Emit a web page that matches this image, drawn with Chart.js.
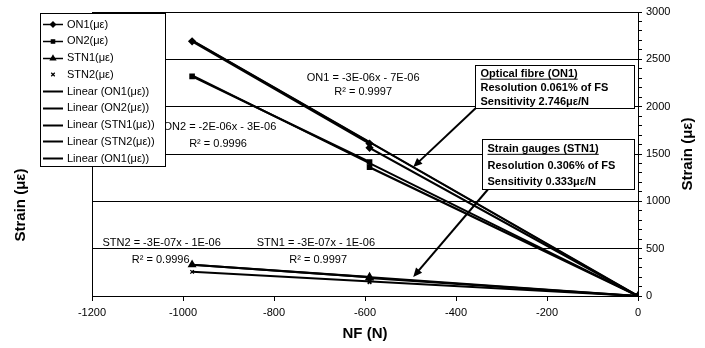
<!DOCTYPE html>
<html>
<head>
<meta charset="utf-8">
<script src="https://cdn.jsdelivr.net/npm/chart.js@4.4.1/dist/chart.umd.min.js"></script>
<style>
html,body{margin:0;padding:0;background:#fff;}
canvas{display:block;}
</style>
</head>
<body>
<canvas id="c" width="705" height="348"></canvas>
<script>
// ---- data ----
const loads = [-980, -590, -590, 0];            // NF (N)
const on1 = [2690, 1610, 1565, 0];              // ON1 (µε)
const on2 = [2320, 1415, 1360, 0];              // ON2 (µε)
const stn1 = [330, 200, 190, 0];                // STN1 (µε)
const stn2 = [255, 155, 145, 0];                // STN2 (µε)
const trendX = [-980, 0];
const trendOn1 = [2700, 0];
const trendOn2 = [2330, 0];
const trendStn1 = [330, 0];
const trendStn2 = [255, 0];
const xTicks = [-1200, -1000, -800, -600, -400, -200, 0];
const seriesLabels = ['ON1(με)', 'ON2(με)', 'STN1(με)', 'STN2(με)',
  'Linear (ON1(με))', 'Linear (ON2(με))', 'Linear (STN1(με))', 'Linear (STN2(με))', 'Linear (ON1(με))'];
const equations = [
  {t: 'ON1 = -3E-06x - 7E-06', x: -604, y: 2303},
  {t: 'R² = 0.9997', x: -604, y: 2155},
  {t: 'ON2 = -2E-06x - 3E-06', x: -919, y: 1785},
  {t: 'R² = 0.9996', x: -923, y: 1606},
  {t: 'STN2 = -3E-07x - 1E-06', x: -1047, y: 560},
  {t: 'R² = 0.9996', x: -1049, y: 380},
  {t: 'STN1 = -3E-07x - 1E-06', x: -708, y: 560},
  {t: 'R² = 0.9997', x: -703, y: 380}
];
const boxes = [
  {lines: ['Optical fibre (ON1)', 'Resolution 0.061% of FS', 'Sensitivity 2.746με/N'],
   x0: -358, x1: -9, y0: 2440, y1: 1986, arrowFrom: [-354, 1996], arrowTo: [-494, 1363]},
  {lines: ['Strain gauges (STN1)', 'Resolution 0.306% of FS', 'Sensitivity 0.333με/N'],
   x0: -343, x1: -9, y0: 1658, y1: 1130, arrowFrom: [-330, 1125], arrowTo: [-494, 201]}
];

const FONT = '"Liberation Sans", Arial, sans-serif';
Chart.defaults.font.family = FONT;
Chart.defaults.color = '#000';

const pts = (xs, ys) => xs.map((x, i) => ({x: x, y: ys[i]}));

const datasets = [
  {label: seriesLabels[0], data: pts(loads, on1), pointStyle: 'rectRot', pointRadius: 2.6, borderWidth: 2.2},
  {label: seriesLabels[1], data: pts(loads, on2), pointStyle: 'rect', pointRadius: 2.4, borderWidth: 2.2},
  {label: seriesLabels[2], data: pts(loads, stn1), pointStyle: 'triangle', pointRadius: 3, borderWidth: 2.2},
  {label: seriesLabels[3], data: pts(loads, stn2), pointStyle: 'crossRot', pointRadius: 2.5, borderWidth: 1.3, showLine: false},
  {label: seriesLabels[4], data: pts(trendX, trendOn1), pointRadius: 0, borderWidth: 2},
  {label: seriesLabels[5], data: pts(trendX, trendOn2), pointRadius: 0, borderWidth: 2},
  {label: seriesLabels[6], data: pts(trendX, trendStn1), pointRadius: 0, borderWidth: 2},
  {label: seriesLabels[7], data: pts(trendX, trendStn2), pointRadius: 0, borderWidth: 2},
  {label: seriesLabels[8], data: pts(trendX, trendOn1), pointRadius: 0, borderWidth: 1.5}
].map(d => Object.assign({borderColor: '#000', backgroundColor: '#000', pointBorderColor: '#000',
  pointBackgroundColor: '#000', tension: 0, fill: false, pointHoverRadius: 3}, d));

const extras = {
  id: 'extras',
  afterDraw(chart) {
    const ctx = chart.ctx;
    const xs = chart.scales.x, ys = chart.scales.y;
    const px = v => xs.getPixelForValue(v), py = v => ys.getPixelForValue(v);
    ctx.save();
    // equations
    ctx.font = '11px ' + FONT;
    ctx.fillStyle = '#000';
    ctx.textAlign = 'center';
    ctx.textBaseline = 'middle';
    equations.forEach(e => ctx.fillText(e.t, px(e.x), py(e.y)));
    // arrows
    boxes.forEach(b => {
      const x0 = px(b.arrowFrom[0]), y0 = py(b.arrowFrom[1]);
      const x1 = px(b.arrowTo[0]), y1 = py(b.arrowTo[1]);
      const a = Math.atan2(y1 - y0, x1 - x0);
      ctx.strokeStyle = '#000'; ctx.lineWidth = 2;
      ctx.beginPath(); ctx.moveTo(x0, y0);
      ctx.lineTo(x1 - 6 * Math.cos(a), y1 - 6 * Math.sin(a)); ctx.stroke();
      ctx.beginPath();
      ctx.moveTo(x1, y1);
      ctx.lineTo(x1 - 9 * Math.cos(a) + 4 * Math.sin(a), y1 - 9 * Math.sin(a) - 4 * Math.cos(a));
      ctx.lineTo(x1 - 9 * Math.cos(a) - 4 * Math.sin(a), y1 - 9 * Math.sin(a) + 4 * Math.cos(a));
      ctx.closePath(); ctx.fill();
    });
    // boxes
    boxes.forEach(b => {
      const l = Math.round(px(b.x0)) + 0.5, r = Math.round(px(b.x1)) + 0.5;
      const t = Math.round(py(b.y0)) + 0.5, bt = Math.round(py(b.y1)) + 0.5;
      ctx.fillStyle = '#fff'; ctx.fillRect(l, t, r - l, bt - t);
      ctx.strokeStyle = '#000'; ctx.lineWidth = 1; ctx.strokeRect(l, t, r - l, bt - t);
      ctx.fillStyle = '#000';
      ctx.font = 'bold 11px ' + FONT;
      ctx.textAlign = 'left'; ctx.textBaseline = 'middle';
      const step = (bt - t) / 3;
      b.lines.forEach((s, i) => {
        const y = t + step * (i + 0.5) + 1;
        ctx.fillText(s, l + 5, y);
        if (i === 0) {
          const w = ctx.measureText(s).width;
          ctx.fillRect(l + 5, y + 5, w, 1);
        }
      });
    });
    // legend
    const L = 40.5, T = 13.5, W = 125, H = 153;
    ctx.fillStyle = '#fff'; ctx.fillRect(L, T, W, H);
    ctx.strokeStyle = '#000'; ctx.lineWidth = 1; ctx.strokeRect(L, T, W, H);
    ctx.font = '11px ' + FONT; ctx.textAlign = 'left'; ctx.textBaseline = 'middle';
    chart.data.datasets.forEach((d, i) => {
      const y = 24 + i * 16.75;
      ctx.strokeStyle = '#000'; ctx.fillStyle = '#000';
      if (d.showLine !== false) {
        ctx.lineWidth = i < 4 ? 1.5 : 2;
        ctx.beginPath(); ctx.moveTo(43, Math.round(y) + 0.5); ctx.lineTo(63, Math.round(y) + 0.5); ctx.stroke();
      }
      if (d.pointRadius > 0) {
        ctx.lineWidth = 1.2;
        Chart.helpers.drawPoint(ctx, {pointStyle: d.pointStyle, radius: d.pointRadius, borderWidth: 1.2, rotation: 0}, 53, Math.round(y) + 0.5);
      }
      ctx.fillStyle = '#000';
      ctx.fillText(d.label, 67, y + 0.5);
    });
    // axis titles
    ctx.font = 'bold 15px ' + FONT;
    ctx.textAlign = 'center'; ctx.textBaseline = 'middle';
    ctx.fillText('NF (N)', px(-600), 334);
    ctx.save(); ctx.translate(21, 205); ctx.rotate(-Math.PI / 2); ctx.fillText('Strain (με)', 0, 0); ctx.restore();
    ctx.save(); ctx.translate(688, py(1500)); ctx.rotate(-Math.PI / 2); ctx.fillText('Strain (με)', 0, 0); ctx.restore();
    ctx.restore();
  }
};

new Chart(document.getElementById('c'), {
  type: 'line',
  data: {datasets: datasets},
  options: {
    responsive: false,
    animation: false,
    devicePixelRatio: 1,
    layout: {padding: {top: 12, left: 0, right: 0, bottom: 0}},
    plugins: {legend: {display: false}, tooltip: {enabled: false}},
    scales: {
      x: {
        type: 'linear', position: 'bottom', min: -1200, max: 0,
        afterBuildTicks: s => { s.ticks = xTicks.map(v => ({value: v})); },
        ticks: {font: {size: 11}, color: '#000', padding: 5, maxRotation: 0, callback: v => String(v)},
        grid: {drawOnChartArea: false, color: '#000', tickLength: 5, tickWidth: 1},
        border: {color: '#000', width: 1},
        afterFit: s => { s.height = 52; }
      },
      y: {
        type: 'linear', position: 'right', min: 0, max: 3000,
        ticks: {stepSize: 100, autoSkip: false, font: {size: 11}, color: '#000', padding: 4,
          callback: v => (v % 500 === 0 ? String(v) : '')},
        grid: {color: c => (c.tick && c.tick.value % 500 === 0 ? '#000' : 'rgba(0,0,0,0)'),
          tickColor: '#000', tickLength: 4, lineWidth: 1},
        border: {color: '#000', width: 1},
        afterFit: s => { s.width = 67; }
      },
      yL: {
        type: 'linear', position: 'left', min: 0, max: 3000,
        ticks: {display: false},
        grid: {drawOnChartArea: false, drawTicks: false},
        border: {color: '#000', width: 1},
        afterFit: s => { s.width = 92; }
      }
    }
  },
  plugins: [extras]
});
</script>
</body>
</html>
